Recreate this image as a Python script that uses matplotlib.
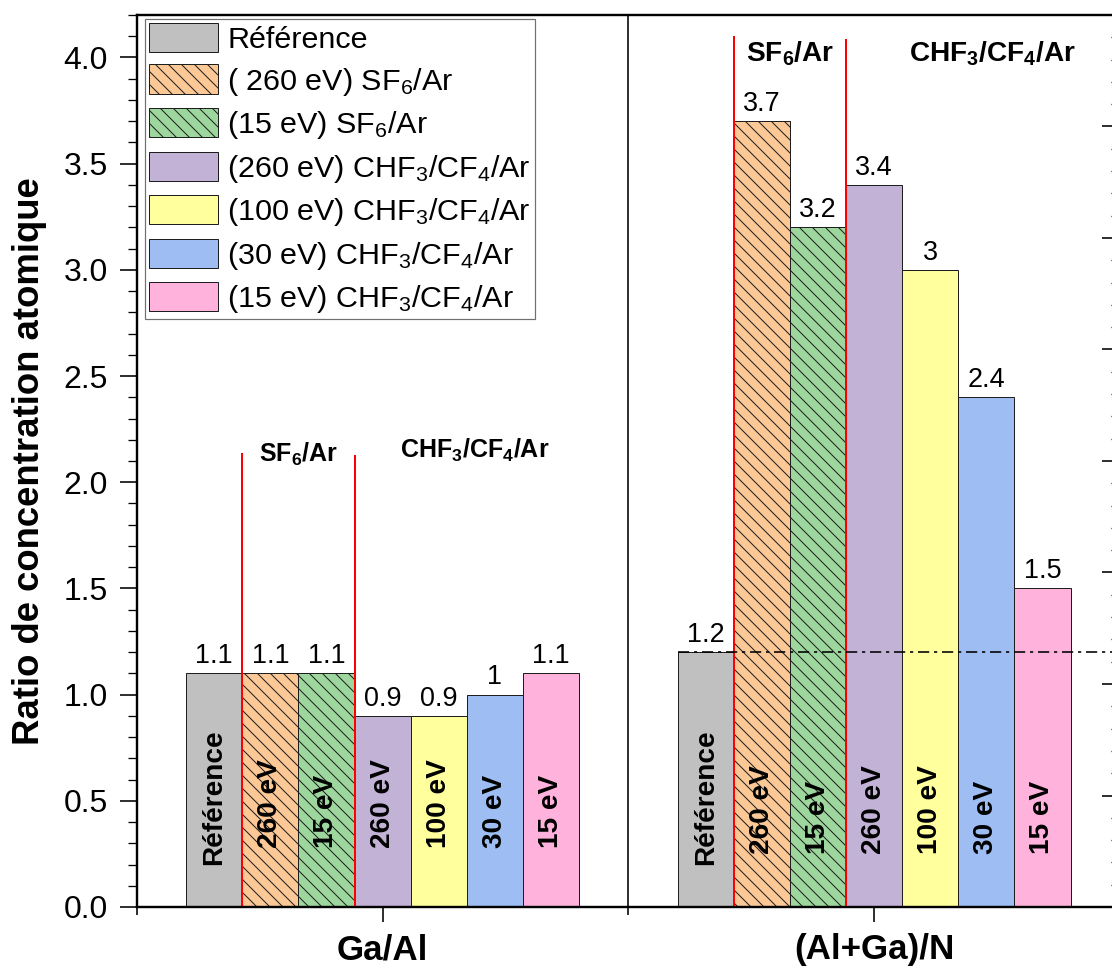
import matplotlib
matplotlib.use('Agg')
import matplotlib.pyplot as plt
from matplotlib.ticker import MultipleLocator, FixedLocator, NullFormatter
import numpy as np

# ---------------- data ----------------
groups = ['Ga/Al', '(Al+Ga)/N']
series = ['Référence',
          '( 260 eV) SF$_6$/Ar',
          '(15 eV) SF$_6$/Ar',
          '(260 eV) CHF$_3$/CF$_4$/Ar',
          '(100 eV) CHF$_3$/CF$_4$/Ar',
          '(30 eV) CHF$_3$/CF$_4$/Ar',
          '(15 eV) CHF$_3$/CF$_4$/Ar']
ref_vals = [1.1, 1.2]
sf6_260 = [1.1, 3.7]
sf6_15 = [1.1, 3.2]
chf_260 = [0.9, 3.4]
chf_100 = [0.9, 3.0]
chf_30 = [1.0, 2.4]
chf_15 = [1.1, 1.5]
values = [ref_vals, sf6_260, sf6_15, chf_260, chf_100, chf_30, chf_15]
bar_tags = ['Référence', '260 eV', '15 eV', '260 eV', '100 eV', '30 eV', '15 eV']
colors = ['#C0C0C0', '#FBC896', '#9DD79D', '#C2B2D6', '#FFFF9E', '#9DBDF3', '#FFB3DC']
hatches = ['', '\\\\', '\\\\', '', '', '', '']
ylabel = 'Ratio de concentration atomique'
yticks = [0.0, 0.5, 1.0, 1.5, 2.0, 2.5, 3.0, 3.5, 4.0]

# ---------------- style ----------------
DPI = 78
def pt(px):
    return px * 72.0 / DPI

plt.rcParams['font.family'] = ['Liberation Sans', 'DejaVu Sans']
plt.rcParams['mathtext.fontset'] = 'custom'
plt.rcParams['mathtext.rm'] = 'Liberation Sans'
plt.rcParams['mathtext.bf'] = 'Liberation Sans:bold'
plt.rcParams['mathtext.default'] = 'regular'
plt.rcParams['hatch.color'] = '#6E6E6E'
plt.rcParams['hatch.linewidth'] = pt(1.0)
plt.rcParams['patch.force_edgecolor'] = True
plt.rcParams['patch.edgecolor'] = '#1E1E1E'

fig = plt.figure(figsize=(1112 / DPI, 967 / DPI), dpi=DPI)
left = 136.75 / 1112
right = 1120 / 1112
bottom = (967 - 907) / 967
top = (967 - 15) / 967
ax = fig.add_axes([left, bottom, right - left, top - bottom])

x = np.arange(1, len(groups) + 1)
w = 0.1141
n = len(series)
for i, (name, vals) in enumerate(zip(series, values)):
    xs = x + (i - (n - 1) / 2) * w
    ax.bar(xs, vals, width=w, color=colors[i], hatch=hatches[i] or None,
           linewidth=pt(1.0), label=name, zorder=2)
    for j, (xx, v) in enumerate(zip(xs, vals)):
        ax.text(xx, v + 0.02, f'{v:g}', ha='center', va='bottom',
                fontsize=pt(27), zorder=5)
        y0 = 0.2 if i == 0 else (0.28 if j == 0 else 0.25)
        ax.text(xx, y0, bar_tags[i], rotation=90, ha='center', va='bottom',
                fontsize=pt(28), fontweight='bold', zorder=5)

# red separators around SF6 bars
red_tops = [2.14, 4.10]
for j, xc in enumerate(x):
    for k, off in enumerate([-2.5 * w, -0.5 * w]):
        ax.plot([xc + off, xc + off], [0, red_tops[j] - 0.012 * k], color='red',
                lw=pt(2.0), zorder=4, solid_capstyle='butt')

# group labels
ax.text(x[0] - 1.5 * w, 2.098, 'SF$_6$/Ar', ha='center', va='baseline',
        fontsize=pt(25), fontweight='bold')
ax.text(x[0] + 1.5 * w + 0.017, 2.115, 'CHF$_3$/CF$_4$/Ar', ha='center', va='baseline',
        fontsize=pt(25), fontweight='bold')
ax.text(x[1] - 1.5 * w, 3.98, 'SF$_6$/Ar', ha='center', va='baseline',
        fontsize=pt(28), fontweight='bold')
ax.text(x[1] + 1.5 * w + 0.07, 3.98, 'CHF$_3$/CF$_4$/Ar', ha='center', va='baseline',
        fontsize=pt(28), fontweight='bold')

# reference dash-dot line in second group
ax.plot([x[1] - 3.5 * w, 2.6], [ref_vals[1], ref_vals[1]], color='black',
        lw=pt(1.6), linestyle=(0, (7, 3, 2, 3)), zorder=6)

# divider
ax.axvline(1.5, color='black', lw=pt(1.6), zorder=3)

ax.set_xlim(0.5, 2.5)
ax.set_ylim(0, 4.2)
ax.set_yticks(yticks)
ax.set_yticklabels([f'{t:.1f}' for t in yticks], fontsize=pt(32))
ax.yaxis.set_minor_locator(MultipleLocator(0.1))
ax.set_xticks(x)
ax.set_xticklabels(groups, fontsize=pt(35), fontweight='bold')
ax.xaxis.set_minor_locator(FixedLocator([0.5, 1.5, 2.5]))
ax.tick_params(axis='y', which='major', direction='out', length=pt(17),
               width=pt(1.6), pad=pt(12), right=False)
ax.tick_params(axis='y', which='minor', direction='out', length=pt(9),
               width=pt(1.3), right=False)
ax.tick_params(axis='x', which='major', direction='out', length=pt(15),
               width=pt(1.6), pad=pt(11), top=False)
ax.tick_params(axis='x', which='minor', direction='out', length=pt(8),
               width=pt(1.6), top=False)
for s in ax.spines.values():
    s.set_linewidth(pt(2.2))

ax.set_ylabel(ylabel, fontsize=pt(36.5), fontweight='bold', va='center')
ax.yaxis.set_label_coords((30 - 136.75) / (1120 - 136.75), 0.5)

# right-side secondary ticks (no labels)
ax2 = ax.twinx()
ax2.set_ylim(0, 8.0)
ax2.yaxis.set_major_locator(MultipleLocator(1))
ax2.yaxis.set_minor_locator(MultipleLocator(0.2))
ax2.yaxis.set_major_formatter(NullFormatter())
ax2.tick_params(axis='y', which='major', direction='in', length=pt(18),
                width=pt(1.6))
ax2.tick_params(axis='y', which='minor', direction='in', length=pt(9),
                width=pt(1.3))
for s in ax2.spines.values():
    s.set_linewidth(pt(2.2))

leg = ax.legend(loc='upper left', bbox_to_anchor=(145 / 1112, 1 - 19 / 967),
                bbox_transform=fig.transFigure, borderaxespad=0,
                fontsize=pt(30.5), handlelength=2.25, handleheight=1.1,
                handletextpad=0.32, labelspacing=0.345, borderpad=0.13,
                fancybox=False, framealpha=1, edgecolor='#707070')
leg.get_frame().set_linewidth(pt(1.2))
leg.set_zorder(10)

fig.savefig('out.png', dpi=DPI)
